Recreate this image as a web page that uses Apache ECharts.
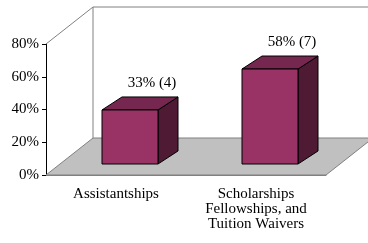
<!DOCTYPE html>
<html>
<head>
<meta charset="utf-8">
<script src="https://cdn.jsdelivr.net/npm/echarts@6/dist/echarts.min.js"></script>
<style>
html, body { margin: 0; padding: 0; background: #fff; }
#chart { width: 368px; height: 243px; }
</style>
</head>
<body>
<div id="chart"></div>
<script>
const categories = ['Assistantships', 'Scholarships\nFellowships, and\nTuition Waivers'];
const percents = [33, 58];
const counts = [4, 7];
const yMin = 0, yMax = 80, yStep = 20;

// 3d look: how far the back wall sits from the front plane (px)
const depth = [47, -37];
const barFront = [14, -11];   // bar front face shift from front plane
const barDepth = [20, -13];   // bar front -> back
const font = '15px "Liberation Serif", "Times New Roman", serif';

const chart = echarts.init(document.getElementById('chart'));

function renderFloor(params, api) {
	const cs = params.coordSys;
	const x = cs.x, y = cs.y, w = cs.width, h = cs.height;
	const dx = depth[0], dy = depth[1];
	const grey = { stroke: '#808080', lineWidth: 1 };
	return {
		type: 'group',
		children: [
			{ type: 'polygon', shape: { points: [[x, y + h], [x + w, y + h], [x + w + dx, y + h + dy], [x + dx, y + h + dy]] },
				style: { fill: '#c0c0c0', stroke: '#808080', lineWidth: 1 } },
			{ type: 'line', shape: { x1: x + dx, y1: y + dy, x2: x + dx, y2: y + h + dy }, style: grey },
			{ type: 'line', shape: { x1: x + dx, y1: y + dy, x2: x + w + dx, y2: y + dy }, style: grey },
			{ type: 'line', shape: { x1: x, y1: y, x2: x + dx, y2: y + dy }, style: grey }
		]
	};
}

function renderBar(params, api) {
	const i = api.value(0), v = api.value(1);
	const base = api.coord([i, 0]);
	const top = api.coord([i, v]);
	const w = api.size([1, 0])[0] * 0.4;
	const fx = base[0] + barFront[0] - w / 2;
	const fy0 = base[1] + barFront[1];
	const fy1 = top[1] + barFront[1];
	const bx = barDepth[0], by = barDepth[1];
	const edge = { stroke: '#000', lineWidth: 1, lineJoin: 'round' };
	return {
		type: 'group',
		children: [
			{ type: 'polygon', shape: { points: [[fx + w, fy1], [fx + w + bx, fy1 + by], [fx + w + bx, fy0 + by], [fx + w, fy0]] },
				style: Object.assign({ fill: '#4e1a34' }, edge) },
			{ type: 'polygon', shape: { points: [[fx, fy1], [fx + w, fy1], [fx + w + bx, fy1 + by], [fx + bx, fy1 + by]] },
				style: Object.assign({ fill: '#76274f' }, edge) },
			{ type: 'rect', shape: { x: fx, y: fy1, width: w, height: fy0 - fy1 },
				style: Object.assign({ fill: '#993366' }, edge) },
			{ type: 'text', style: { text: percents[i] + '% (' + counts[i] + ')', x: fx + w / 2 + bx + 2, y: fy1 + by - 13.5,
				align: 'center', verticalAlign: 'middle', font: font, fill: '#000' } }
		]
	};
}

const option = {
	animation: false,
	grid: { left: 46, top: 44, width: 280, height: 131 },
	xAxis: {
		type: 'category',
		data: categories,
		boundaryGap: true,
		axisLine: { lineStyle: { color: '#808080' } },
		axisTick: { length: 4, lineStyle: { color: '#404040' } },
		axisLabel: { fontFamily: '"Liberation Serif", serif', fontSize: 15, color: '#000', margin: 12, lineHeight: 15, interval: 0 }
	},
	yAxis: {
		type: 'value',
		min: yMin, max: yMax, interval: yStep,
		axisLine: { show: true, lineStyle: { color: '#000' } },
		axisTick: { show: true, length: 4, lineStyle: { color: '#000' } },
		splitLine: { show: false },
		axisLabel: { formatter: '{value}%', fontFamily: '"Liberation Serif", serif', fontSize: 15, color: '#000', margin: 7 }
	},
	series: [
		{ type: 'custom', renderItem: renderFloor, data: [[0, 0]], clip: false, silent: true, z: 1 },
		{ type: 'custom', renderItem: renderBar, data: percents.map((v, i) => [i, v]), clip: false, z: 3 }
	]
};
chart.setOption(option);
</script>
</body>
</html>
